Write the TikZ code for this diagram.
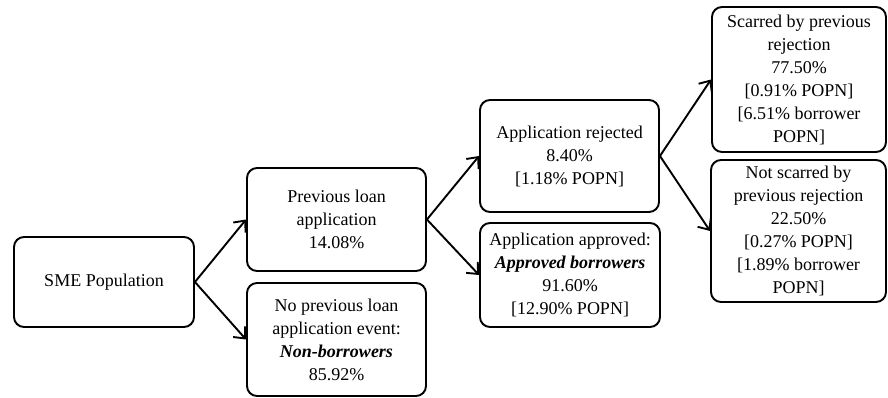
\documentclass[tikz,border=0pt]{standalone}
\usepackage{fontspec}
\setmainfont{Liberation Serif}
\usetikzlibrary{arrows.meta, positioning}

\begin{document}
\begin{tikzpicture}[
  x=1pt, y=1pt,
  every node/.style={font=\fontsize{18}{23}\selectfont, align=center},
  box/.style={draw, rounded corners=10pt, line width=1.9pt, inner sep=0pt},
  >={Straight Barb[length=9pt, width=16pt]}
]
\useasboundingbox (0,0) rectangle (888,-398);
% Nodes
\node[box, minimum width=180pt, minimum height=90pt] (sme) at (104,-282) {SME Population};
% First split
\node[box, minimum width=179pt, minimum height=103pt] (prev) at (336.5,-219.5) {Previous loan\\application\\14.08\%};
\node[box, minimum width=179pt, minimum height=113pt] (noprev) at (336.5,-339.5) {No previous loan\\application event:\\\textbf{\textit{Non-borrowers}}\\85.92\%};
% Second split
\node[box, minimum width=179pt, minimum height=112pt] (rejected) at (569.5,-156) {Application rejected\\8.40\%\\{[}1.18\% POPN{]}};
\node[box, minimum width=180pt, minimum height=104pt] (approved) at (570,-275) {Application approved:\\\textbf{\textit{Approved borrowers}}\\91.60\%\\{[}12.90\% POPN{]}};
% Third split
\node[box, minimum width=174pt, minimum height=145pt] (scarred) at (799,-79.5) {Scarred by previous\\rejection\\77.50\%\\{[}0.91\% POPN{]}\\{[}6.51\% borrower\\POPN{]}};
\node[box, minimum width=175pt, minimum height=142pt] (notscarred) at (798.5,-231) {Not scarred by\\previous rejection\\22.50\%\\{[}0.27\% POPN{]}\\{[}1.89\% borrower\\POPN{]}};

% Edges
\draw[->, line width=1.9pt] (sme.east) -- (prev.west);
\draw[->, line width=1.9pt] (sme.east) -- (noprev.west);
\draw[->, line width=1.9pt] (prev.east) -- (rejected.west);
\draw[->, line width=1.9pt] (prev.east) -- (approved.west);
\draw[->, line width=1.9pt] (rejected.east) -- (scarred.west);
\draw[->, line width=1.9pt] (rejected.east) -- (notscarred.west);
\end{tikzpicture}
\end{document}
